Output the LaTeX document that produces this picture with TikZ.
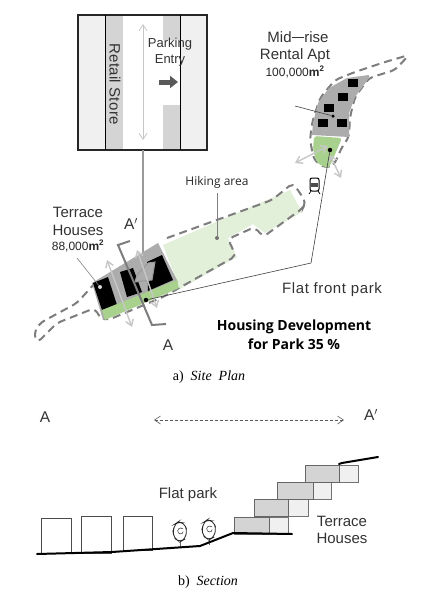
\documentclass[tikz,border=0pt]{standalone}
\usepackage{fontspec}
\setmainfont{Liberation Sans}
\newfontfamily\notofont{Open Sans}
\newfontfamily\capfont{Liberation Serif}
\usepackage{xcolor}
\usetikzlibrary{arrows.meta,positioning,calc}
\definecolor{sitegray}{RGB}{172,172,172}
\definecolor{parkgreen}{RGB}{169,209,142}
\definecolor{hikegreen}{RGB}{226,239,217}
\definecolor{dashgray}{RGB}{125,125,125}
\definecolor{wallgray}{RGB}{212,212,212}
\definecolor{panelgray}{RGB}{240,240,240}

\begin{document}
\begin{tikzpicture}[
        x=1pt, y=-1pt,
        >={Straight Barb[length=6pt,width=8pt]},
        siteline/.style={draw=dashgray,line width=2pt,dash pattern=on 8pt off 5pt,rounded corners=5pt},
        block/.style={fill=black},
        flat/.style={fill=black,minimum width=10pt,minimum height=8pt,inner sep=0pt},
        flow/.style={<->,draw=black!22,line width=1.4pt},
        leader/.style={draw=black!75,line width=0.6pt},
        pin/.style={circle,fill=black,inner sep=0pt,minimum size=4.5pt},
        lbl/.style={font=\fontsize{15}{17}\selectfont,text=black!80,align=center,inner sep=0pt},
        area/.style={font=\fontsize{12}{14}\selectfont,text=black!85,align=center,inner sep=0pt},
        unitbox/.style={draw=black!70,line width=1pt,fill=white},
        terrace/.style={draw=black!60,line width=0.8pt,fill=wallgray},
        patio/.style={draw=black!55,line width=0.8pt,fill=panelgray},
        ground/.style={line width=2pt,line cap=round}
      ]
        \useasboundingbox (0,0) rectangle (424,598);
        \fill[white] (0,0) rectangle (424,598);

        % enlarged street
        \fill[panelgray] (78,15) rectangle (105,150);
        \fill[panelgray] (180,15) rectangle (207,150);
        \fill[wallgray] (105,15) rectangle (123,150);
        \fill[wallgray] (163,15) rectangle (180,40);
        \fill[wallgray] (163,105) rectangle (180,150);
        \draw[line width=1.2pt,draw=black!85] (78,15) rectangle (207,150);
        \draw[line width=0.8pt] (105,15) -- (105,150);
        \draw[line width=0.8pt] (180,15) -- (180,150);
        \node[lbl,rotate=-90] (retail) at (115,84) {\addfontfeature{LetterSpace=2}Retail Store};
        \node[lbl,font=\fontsize{13}{16}\selectfont] (parking) at (170,52) {Parking\\Entry};
        \draw[flow,line width=0.8pt] (143,24) -- (143,140);
        \draw[-{Triangle[length=8pt,width=12pt]},line width=5pt,draw=black!65] (159,82) -- (178,82);
        \coordinate (streetfoot) at (143,150);
        \coordinate (streethit) at (143,262);
        \draw[draw=black!40,line width=2.5pt] (streetfoot) -- (streethit);

        % hiking area
        \fill[hikegreen] (163,245) -- (290,190) -- (302,212) -- (265,233) -- (253,224)
             -- (228,238) -- (237,257) -- (180,289) -- cycle;

        % site boundary
        \draw[siteline] (167,238) -- (272,200) -- (293,183) -- (306,202) -- (303,208)
             -- (263,237) -- (255,227) -- (228,239) -- (236,256) -- (163,297)
             -- (108,320) -- (100,318) -- (95,308) -- (57,323) -- (37,343)
             -- (34,333) -- (40,323) -- (77,303) -- (95,283);
        \draw[siteline] (409,55) -- (385,62) -- (355,72) -- (335,80) -- (320,98)
             -- (312,123) -- (310,140) -- (314,160) -- (325,168) -- (334,165)
             -- (342,147) -- (349,137) -- (350,117) -- (355,97) -- (369,78)
             -- (382,74) -- (395,70) -- cycle;

        % terrace houses
        \fill[sitegray] (92,283) -- (158,243) -- (178,282) -- (103,320) -- cycle;
        \fill[block] (93,283) -- (108,277) -- (117,305) -- (102,310) -- cycle;
        \fill[block] (120,272) -- (133,268) -- (142,292) -- (127,297) -- cycle;
        \fill[block] (147,262) -- (162,255) -- (173,280) -- (148,291) -- cycle;
        \fill[parkgreen] (102,310) -- (177,280) -- (179,288) -- (105,320) -- cycle;
        \filldraw[fill=sitegray,draw=black!40,line width=1pt] (148,263) -- (155,262) -- (152,280) -- (135,282) -- (137,275) -- cycle;
        \draw[flow] (107,260) -- (132,327);
        \draw[flow] (137,250) -- (157,308);
        \draw[draw=dashgray,line width=2pt] (130,241) -- (118,245) -- (152,325) -- (166,324);

        % rental blocks
        \fill[sitegray] (369,75) -- (347,78) -- (329,88) -- (318,103) -- (313,123) -- (312,135)
             -- (349,137) -- (349,113) -- (355,97) -- (369,78) -- cycle;
        \fill[parkgreen,rounded corners=3pt] (314,136) -- (342,138) -- (330,166) -- (327,168)
             -- (317,163) -- (313,150) -- cycle;
        \node[flat] (flat1) at (353,83) {};
        \node[flat] (flat2) at (343,97) {};
        \node[flat] (flat3) at (329,108) {};
        \node[flat] (flat4) at (323,123) {};
        \node[flat] (flat5) at (342,123) {};
        \draw[flow] (328,146) -- (295,163);
        \draw[flow] (330,155) -- (341,178);

        % pins and leaders
        \node[pin] (frontpin) at (146,300) {};
        \node[pin] (rentalpark) at (330,150) {};
        \node[pin,minimum size=3.5pt] (rentalpin) at (333,116) {};
        \node[pin,minimum size=4pt,fill=black!55] (hikepin) at (217,238) {};
        \node[pin,minimum size=4pt,fill=black!15] (terracepin) at (100,287) {};
        \coordinate (bend) at (311,263);
        \coordinate (rentaltail) at (295,106);
        \coordinate (hiketail) at (217,193);
        \coordinate (terracetail) at (77,258);
        \draw[leader] (rentalpark) -- (bend) -- (frontpin);
        \draw[leader] (rentaltail) -- (rentalpin);
        \draw[leader,draw=black!50] (hiketail) -- (hikepin);
        \draw[leader,draw=black!50] (terracetail) -- (terracepin);

        % train
        \filldraw[fill=white,draw=black,line width=1pt,rounded corners=2pt] (310,178) rectangle (319,191);
        \fill[black!70] (311,183) rectangle (318,187);
        \draw[line width=0.7pt] (311,191) -- (309,194);
        \draw[line width=0.7pt] (318,191) -- (320,194);

        % plan labels
        \node[lbl] (midrise) at (298,37) {Mid\rule[0.3em]{0.85em}{0.07em}rise};
        \node[lbl] (rental) at (295,56) {Rental Apt};
        \node[area] (rentalsize) at (295,72) {100,000\textbf{m\textsuperscript{2}}};
        \node[area,font=\notofont\fontsize{12}{14}\selectfont] (hiking) at (217,182) {Hiking area};
        \node[lbl] (terrace1) at (78,212) {Terrace};
        \node[lbl] (terrace2) at (78,230) {Houses};
        \node[area] (terracesize) at (78,246) {88,000\textbf{m\textsuperscript{2}}};
        \node[lbl,font=\fontsize{15.5}{17}\selectfont] (aprime) at (131,224) {A$'$};
        \node[lbl,font=\fontsize{15.5}{17}\selectfont] (acut) at (168,345) {A};
        \node[lbl] (frontpark) at (332,290) {\addfontfeature{LetterSpace=4}Flat front park};
        \node[area,font=\notofont\bfseries\fontsize{14}{19}\selectfont,text=black] (title) at (294,335)
             {Housing Development\\for Park 35 \%};
        \node[font=\capfont\fontsize{14}{16}\selectfont,inner sep=0pt] (capa) at (209,377) {a)\ \ \textit{Site\ \ Plan}};

        % section
        \node[lbl,font=\fontsize{15.5}{17}\selectfont] (seca) at (45,417) {A};
        \node[lbl,font=\fontsize{15.5}{17}\selectfont] (secb) at (371,415) {A$'$};
        \coordinate (spanl) at (154,420);
        \coordinate (spanr) at (344,420);
        \draw[<->,densely dashed,draw=black!65,line width=0.6pt] (spanl) -- (spanr);
        \node[lbl] (flatpark) at (188,495) {Flat park};
        \node[lbl] (terrace3) at (342,530) {Terrace\\Houses};

        \draw[unitbox] (41,518) rectangle (71,553);
        \draw[unitbox] (81,516) rectangle (111,553);
        \draw[unitbox] (123,516) rectangle (152,550);

        \foreach \tx/\ty/\tb in {180/532/547, 209/530/545} {
          \draw[black!60,line width=0.7pt] (\tx,\ty+9) -- (\tx,\tb);
          \draw[black!85,line width=0.8pt,rounded corners=4pt]
            (\tx-2,\ty-10) -- (\tx+4,\ty-9) -- (\tx+7,\ty-2) -- (\tx+5,\ty+7) -- (\tx,\ty+10)
            -- (\tx-6,\ty+6) -- (\tx-7,\ty-1) -- (\tx-5,\ty-8) -- cycle;
          \draw[black!85,line width=0.5pt] (\tx+3,\ty-3) arc [start angle=40,end angle=300,radius=3pt] -- ++(1,-2);
        }

        \foreach \bx/\by/\bw/\pw in {234/517/35/19, 254/499/34/20, 277/482/36/18, 305/465/34/19} {
          \draw[patio] (\bx+\bw,\by) rectangle (\bx+\bw+\pw,\by+17);
          \draw[terrace] (\bx,\by) rectangle (\bx+\bw,\by+17);
        }

        \draw[ground] (37,554) -- (112,552) -- (200,546) -- (233,533) -- (292,534);
        \draw[ground] (339,464) -- (342,463) -- (378,457);
        \node[font=\capfont\fontsize{14}{16}\selectfont,inner sep=0pt] (capb) at (208,582) {b)\ \ \textit{Section}};
      \end{tikzpicture}
\end{document}
